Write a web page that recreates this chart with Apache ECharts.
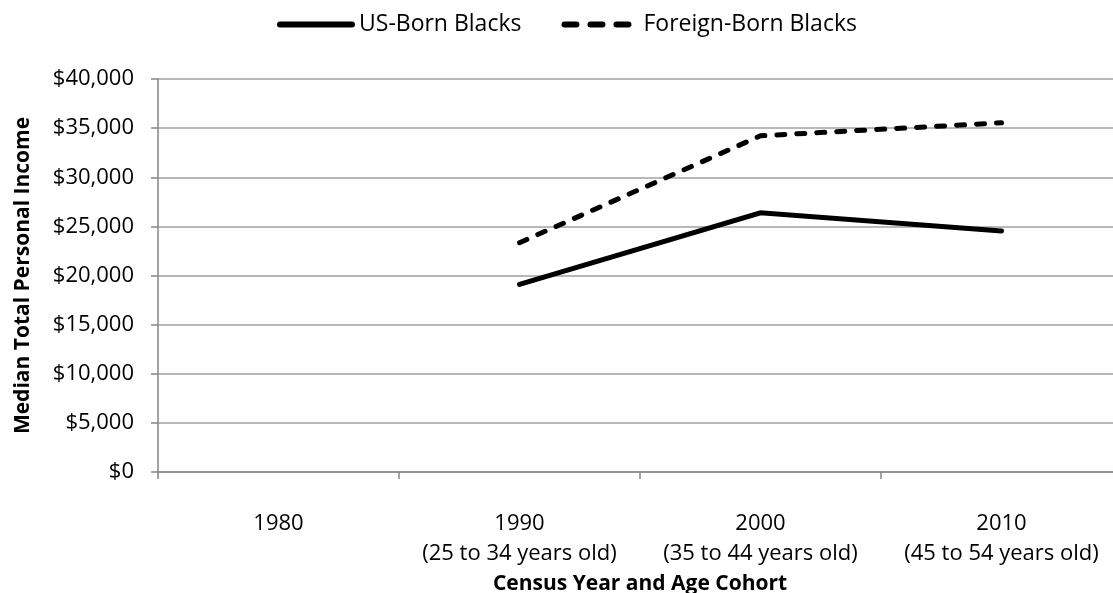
<!DOCTYPE html>
<html>
<head>
<meta charset="utf-8">
<script src="https://cdn.jsdelivr.net/npm/echarts@6/dist/echarts.min.js"></script>
<style>
html,body{margin:0;padding:0;background:#fff;}
#chart{width:1113px;height:593px;}
</style>
</head>
<body>
<div id="chart"></div>
<script>
var categories = ['1980', '1990\n(25 to 34 years old)', '2000\n(35 to 44 years old)', '2010\n(45 to 54 years old)'];
var usBorn = [null, 19100, 26380, 24520];
var foreignBorn = [null, 23340, 34220, 35540];
var seriesNames = ['US-Born Blacks', 'Foreign-Born Blacks'];
var yTicks = {min: 0, max: 40000, interval: 5000};

var FONT = 'Open Sans';
var DASH = [8, 12];
var chart = echarts.init(document.getElementById('chart'));
chart.setOption({
  animation: false,
  textStyle: {fontFamily: FONT, color: '#000'},
  legend: {
    top: 8,
    left: 272,
    itemWidth: 72,
    itemHeight: 14,
    itemGap: 40,
    itemStyle: {opacity: 0},
    textStyle: {fontFamily: FONT, fontSize: 23, color: '#000', padding: [0, 0, 0, 2]},
    data: [
      {name: seriesNames[0], lineStyle: {width: 6, color: '#000', type: 'solid', cap: 'round'}},
      {name: seriesNames[1], lineStyle: {width: 6, color: '#000', type: [12, 14], cap: 'round'}}
    ]
  },
  grid: {left: 158, right: -9, top: 79, bottom: 121, containLabel: false, outerBoundsMode: 'none'},
  xAxis: {
    type: 'category',
    data: categories,
    boundaryGap: true,
    name: 'Census Year and Age Cohort',
    nameLocation: 'middle',
    nameGap: 90,
    nameTextStyle: {fontFamily: FONT, fontSize: 21, fontWeight: 'bold', color: '#000'},
    axisLine: {lineStyle: {color: '#868686', width: 1.5}},
    axisTick: {show: true, interval: 0, length: 7, lineStyle: {color: '#868686', width: 1.5}},
    axisLabel: {interval: 0, hideOverlap: false, color: '#000', fontSize: 22, lineHeight: 30, margin: 37, fontFamily: FONT},
    splitLine: {show: false}
  },
  yAxis: {
    type: 'value',
    min: yTicks.min,
    max: yTicks.max,
    interval: yTicks.interval,
    name: 'Median Total Personal Income',
    nameLocation: 'middle',
    nameRotate: 90,
    nameGap: 124,
    nameTextStyle: {fontFamily: FONT, fontSize: 21, fontWeight: 'bold', color: '#000'},
    axisLine: {show: true, lineStyle: {color: '#868686', width: 1.5}},
    axisTick: {show: true, length: 7, lineStyle: {color: '#868686', width: 1.5}},
    axisLabel: {
      color: '#000', fontSize: 22, margin: 24, fontFamily: FONT,
      formatter: function (v) { return '$' + v.toLocaleString('en-US'); }
    },
    splitLine: {show: true, lineStyle: {color: '#a0a0a0', width: 1.5}}
  },
  series: [
    {
      name: seriesNames[0],
      type: 'line',
      data: usBorn,
      symbol: 'none',
      connectNulls: false,
      lineStyle: {color: '#000', width: 5, cap: 'round', join: 'miter'},
      itemStyle: {color: '#000'}
    },
    {
      name: seriesNames[1],
      type: 'line',
      data: foreignBorn,
      symbol: 'none',
      connectNulls: false,
      lineStyle: {color: '#000', width: 5, type: DASH, cap: 'round'},
      itemStyle: {color: '#000'}
    }
  ]
});
</script>
</body>
</html>
